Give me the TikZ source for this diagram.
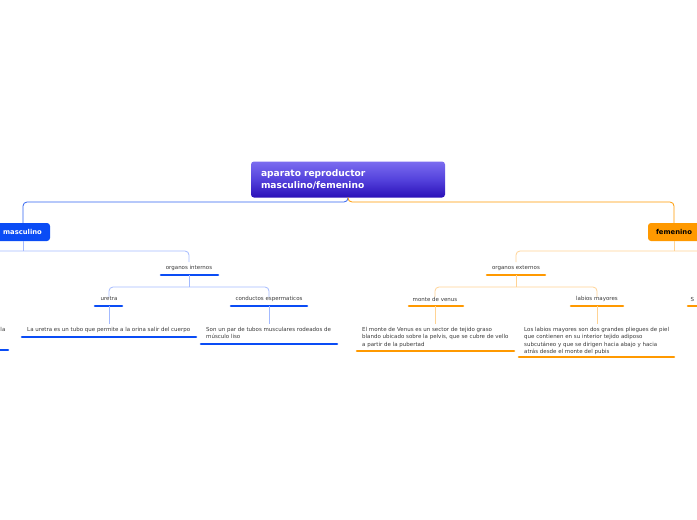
\documentclass[tikz,border=0pt]{standalone}
\usepackage{fontspec}
\setmainfont{DejaVu Sans}
\definecolor{mblue}{HTML}{0A4CF5}
\definecolor{cblue}{HTML}{2F62F0}
\definecolor{lblue}{HTML}{A3BAFF}
\definecolor{morange}{HTML}{FF9900}
\definecolor{lorange}{HTML}{FFD394}
\definecolor{txt}{HTML}{3A3A3A}
\definecolor{rtop}{HTML}{7B6CF0}
\definecolor{rmid}{HTML}{5442DC}
\definecolor{rbot}{HTML}{2A10B8}
\begin{document}
\begin{tikzpicture}[x=1pt,y=-1pt,
  small/.style={font=\fontsize{5.5}{7.2}\selectfont, text=txt, inner sep=0pt},
  para/.style={small, align=left, anchor=north west},
  bline/.style={mblue, line width=2.6pt, line cap=round},
  oline/.style={morange, line width=2.6pt, line cap=round},
  bconn/.style={lblue, line width=0.8pt, rounded corners=4pt},
  oconn/.style={lorange, line width=0.8pt, rounded corners=4pt}]
\useasboundingbox (0,0) rectangle (697,520);

% root
\node[rounded corners=3pt, top color=rtop, bottom color=rbot, middle color=rmid,
      minimum width=194pt, minimum height=36pt, inner xsep=10pt, text width=174pt, align=left,
      font=\fontsize{9.1}{12}\bfseries, text=white] (root) at (348,179.5)
      {aparato reproductor\\masculino/femenino};

% level 1
\node[rounded corners=3pt, fill=mblue, minimum width=60pt, minimum height=18pt,
      font=\fontsize{6.8}{8}\bfseries, text=white, inner sep=0pt] (masc) at (20,232) {\hspace*{5pt}masculino};
\node[rounded corners=3pt, fill=morange, minimum width=52pt, minimum height=18pt,
      font=\fontsize{6.8}{8}\bfseries, text=black, inner sep=0pt] (fem) at (674,232) {femenino};

\coordinate (rootB) at (348,197);
\coordinate (mascT) at (23,223);
\coordinate (mascB) at (23,241);
\coordinate (femT) at (674,223);
\coordinate (femB) at (674,241);
\draw[cblue, line width=0.8pt, rounded corners=4pt] (rootB) -- (348,202) -| (mascT);
\draw[morange, line width=0.8pt, rounded corners=4pt] (rootB) -- (348,202) -| (femT);

% masculino branch
\coordinate (oiT) at (189,262);
\coordinate (mL) at (-6,251);
\draw[bconn] (mascB) -- (23,251);
\draw[bconn] (mL) -| (oiT);
\node[small] (oi) at (189,268) {organos internos};
\draw[bline] (161,275) -- (218,275);
\coordinate (oiB) at (189,275);
\coordinate (urT) at (109,297);
\coordinate (coT) at (269,297);
\draw[bconn] (oiB) -- (189,287);
\draw[bconn] (urT) |- (189,287) -| (coT);
\node[small] (ur) at (109,299) {uretra};
\draw[bline] (95,306) -- (122,306);
\node[small] (co) at (269,299) {conductos espermaticos};
\draw[bline] (231,306) -- (307,306);
\coordinate (urB) at (109,306);
\coordinate (urD) at (109,324);
\coordinate (coB) at (269,306);
\coordinate (coD) at (269,324);
\draw[bconn] (urB) -- (urD);
\draw[bconn] (coB) -- (coD);
\node[para] (urt) at (27,327.4) {La uretra es un tubo que permite a la orina salir del cuerpo};
\draw[bline] (22,337) -- (196,337);
\node[para] (cot) at (206,327.4) {Son un par de tubos musculares rodeados de\\músculo liso};
\draw[bline] (201,344) -- (337,344);
\node[small, anchor=north west] (lx) at (0.3,327.4) {la};
\draw[bline] (-5,350) -- (8,350);

% femenino branch
\coordinate (oeT) at (516,262);
\coordinate (fR) at (703,251);
\draw[oconn] (femB) -- (674,251);
\draw[oconn] (fR) -| (oeT);
\node[small] (oe) at (516,268) {organos externos};
\draw[oline] (487,275) -- (545,275);
\coordinate (oeB) at (516,275);
\coordinate (mvT) at (435,297);
\coordinate (lmT) at (597,297);
\draw[oconn] (oeB) -- (516,287);
\draw[oconn] (mvT) |- (516,287) -| (lmT);
\node[small] (mv) at (435,299) {monte de venus};
\draw[oline] (409,306) -- (463,306);
\node[small] (lm) at (597,299) {labios mayores};
\draw[oline] (571,306) -- (623,306);
\node[small, anchor=west] (sx) at (690.5,299) {S};
\draw[oline] (688,306) -- (703,306);
\coordinate (mvB) at (435,306);
\coordinate (mvD) at (435,324);
\coordinate (lmB) at (597,306);
\coordinate (lmD) at (597,324);
\draw[oconn] (mvB) -- (mvD);
\draw[oconn] (lmB) -- (lmD);
\node[para] (mvt) at (362,327.4) {El monte de Venus es un sector de tejido graso\\blando ubicado sobre la pelvis, que se cubre de vello\\a partir de la pubertad};
\draw[oline] (357,351) -- (514,351);
\node[para] (lmt) at (524,327.4) {Los labios mayores son dos grandes pliegues de piel\\que contienen en su interior tejido adiposo\\subcutáneo y que se dirigen hacia abajo y hacia\\atrás desde el monte del pubis};
\draw[oline] (519,357) -- (674,357);
\end{tikzpicture}
\end{document}
